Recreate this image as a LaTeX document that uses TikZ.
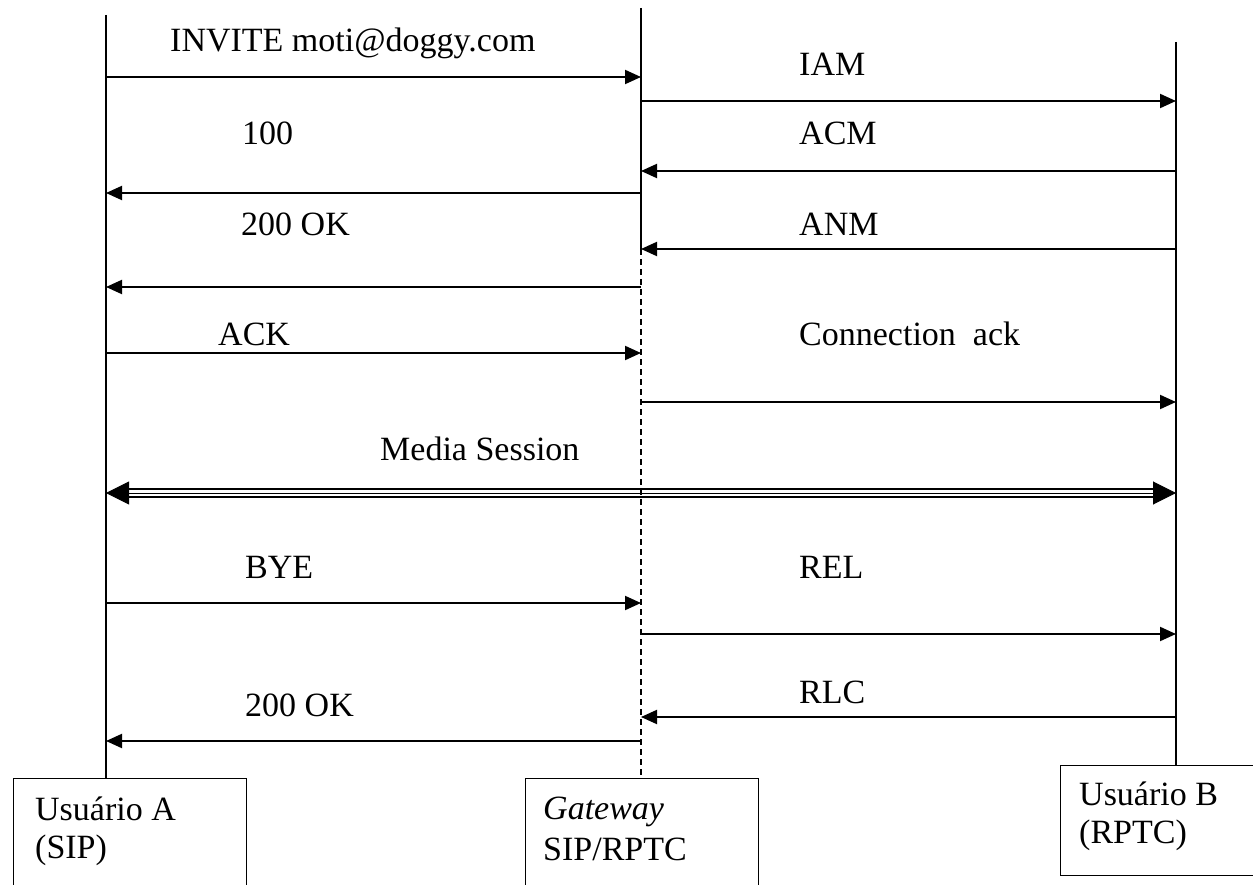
\documentclass[tikz,border=0pt]{standalone}
\usepackage{fontspec}
\setmainfont{Liberation Serif}
\usetikzlibrary{arrows.meta}
\begin{document}
\begin{tikzpicture}[x=1pt,y=-1pt,
  life/.style={line width=1.4pt},
  msg/.style={line width=2pt,-{Triangle[length=16pt,width=14pt]}},
  lbl/.style={anchor=base west,inner sep=0pt,font=\fontsize{34}{40}\selectfont},
  actorbox/.style={draw,line width=1.4pt,anchor=north west,inner sep=0pt}]
\useasboundingbox (0,0) rectangle (1253,885);
\clip (0,0) rectangle (1253,885);

% participant boxes
\node[actorbox,minimum width=233pt,minimum height=140pt] (boxA) at (13,778) {};
\node[actorbox,minimum width=233pt,minimum height=140pt] (boxG) at (525,778) {};
\node[actorbox,minimum width=220pt,minimum height=110pt] (boxB) at (1060,765) {};

\node[lbl] (tA1) at (35,820) {Usuário A};
\node[lbl] (tA2) at (35,858) {(SIP)};
\node[lbl] (tG1) at (543,819) {\itshape Gateway};
\node[lbl] (tG2) at (543,860) {SIP/RPTC};
\node[lbl] (tB1) at (1079,805) {Usuário B};
\node[lbl] (tB2) at (1079,843) {(RPTC)};

% lifelines
\coordinate (Atop) at (106,15);
\coordinate (Gtop) at (641,8);
\coordinate (Gmid) at (641,249);
\coordinate (Btop) at (1176,42);
\draw[life] (Atop) -- (Atop |- boxA.north);
\draw[life] (Gtop) -- (Gmid);
\draw[life,line width=1.2pt,dash pattern=on 6pt off 4pt] (Gmid) -- (Gmid |- boxG.north);
\draw[life] (Btop) -- (Btop |- boxB.north);

% message end points
\foreach \n/\y in {1/77,2/101,3/171,4/193,5/249,6/287,7/353,8/402,9/493,10/603,11/634,12/717,13/741}{
  \coordinate (a\n) at (106,\y);
  \coordinate (g\n) at (641,\y);
  \coordinate (b\n) at (1176,\y);
}

% messages
\draw[msg] (a1) -- (g1);
\draw[msg] (g2) -- (b2);
\draw[msg] (b3) -- (g3);
\draw[msg] (g4) -- (a4);
\draw[msg] (b5) -- (g5);
\draw[msg] (g6) -- (a6);
\draw[msg] (a7) -- (g7);
\draw[msg] (g8) -- (b8);
\draw[msg] (a10) -- (g10);
\draw[msg] (g11) -- (b11);
\draw[msg] (b12) -- (g12);
\draw[msg] (g13) -- (a13);

% media session (triple-ruled double-headed arrow)
\draw[line width=1pt,{Triangle[length=23pt,width=23pt]}-{Triangle[length=23pt,width=23pt]}] (a9) -- (b9);
\draw[line width=1.4pt,shorten <=20pt,shorten >=20pt] ([yshift=-4pt]a9) -- ([yshift=-4pt]b9);
\draw[line width=1.4pt,shorten <=20pt,shorten >=20pt] ([yshift=4pt]a9) -- ([yshift=4pt]b9);

% labels
\node[lbl] (l1) at (170,52) {INVITE moti@doggy.com};
\node[lbl] (l2) at (799,76) {IAM};
\node[lbl] (l3) at (799,145) {ACM};
\node[lbl] (l4) at (242,145) {100};
\node[lbl] (l5) at (799,236) {ANM};
\node[lbl] (l6) at (241,236) {200 OK};
\node[lbl] (l7) at (218,345) {ACK};
\node[lbl] (l8) at (799,345) {Connection\ \ ack};
\node[lbl] (l9) at (380,460) {Media Session};
\node[lbl] (l10) at (245,578) {BYE};
\node[lbl] (l11) at (799,578) {REL};
\node[lbl] (l12) at (799,703) {RLC};
\node[lbl] (l13) at (245,716) {200 OK};
\end{tikzpicture}
\end{document}
